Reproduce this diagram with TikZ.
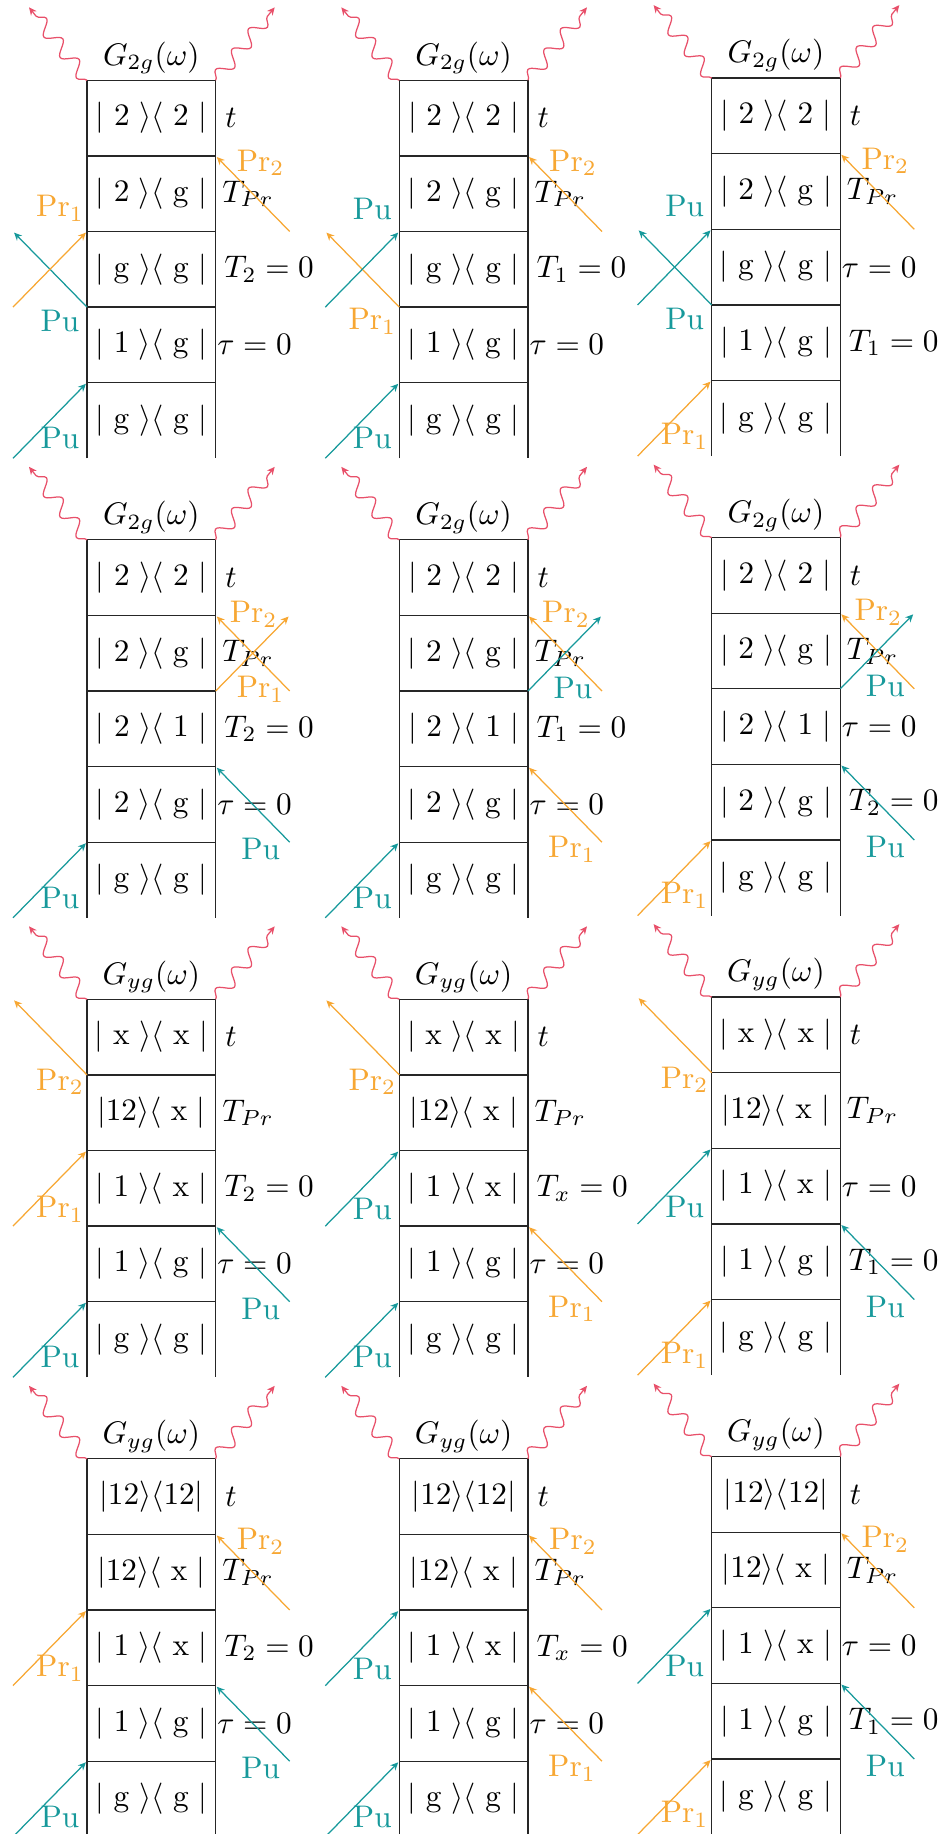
\documentclass[tikz,border=0pt]{standalone}
\usepackage{amsmath,amssymb}
\usetikzlibrary{arrows.meta,decorations.pathmorphing,calc}

\definecolor{pumpcol}{HTML}{17999B}
\definecolor{probecol}{HTML}{F7A733}
\definecolor{emitcol}{HTML}{E8506A}

\newcommand{\rowh}{75.6}
\newcommand{\boxw}{128.7}
\newcommand{\arrw}{74}

% density matrix element, single levels get some room
\newcommand{\dens}[2]{$|#1\rangle\langle#2|$}
\newcommand{\lvl}[1]{\mskip5.5mu\mathrm{#1}\mskip5.5mu}

\tikzset{
  ladderline/.style={draw=black!85, line width=0.4pt},
  cell/.style={inner sep=0pt},
  timelbl/.style={anchor=west, inner sep=0pt},
  resp/.style={inner sep=0pt},
  emit/.style={emitcol, decorate,
    decoration={snake, amplitude=2.2pt, segment length=8.4pt, post length=2.5pt},
    -{Stealth[length=2.5pt, width=2.3pt]}},
  pump/.style={pumpcol, -{Stealth[length=2.5pt, width=2.3pt]}, shorten >=0.5pt},
  probe/.style={probecol, -{Stealth[length=2.5pt, width=2.3pt]}, shorten >=0.5pt},
  pulbl/.style={pumpcol, inner sep=0pt},
  prlbl/.style={probecol, inner sep=0pt},
}

% one ladder: name, top left corner, index of G, cells, time labels
\newcommand{\ladder}[5]{%
  \begin{scope}[shift={#2}]
    % row corners and arrow ends
    \foreach \k in {0,...,5} {
      \coordinate (#1-L\k) at (0,{\k*\rowh});
      \coordinate (#1-R\k) at (\boxw,{\k*\rowh});
      \coordinate (#1-l\k) at ({-\arrw},{\k*\rowh});
      \coordinate (#1-r\k) at ({\boxw+\arrw},{\k*\rowh});
    }
    \draw[ladderline] (#1-L5) -- (#1-L0) -- (#1-R0) -- (#1-R5);
    \foreach \k in {1,...,4} \draw[ladderline] (#1-L\k) -- (#1-R\k);
    % cells
    \foreach \txt [count=\k] in {#4}
      \node[cell] (#1-c\k) at ({\boxw/2},{(\k-0.5)*\rowh}) {\txt};
    % times
    \foreach \dx/\txt [count=\k] in {#5}
      \node[timelbl] (#1-t\k) at ({\boxw+\dx},{(\k-0.5)*\rowh}) {\txt};
    % emitted field
    \node[resp] (#1-g) at ({\boxw/2},-22.5) {$G_{#3}(\omega)$};
    \coordinate (#1-wl) at (-58,-73);
    \coordinate (#1-wr) at ({\boxw+59},-73);
    \draw[emit] (#1-L0) -- (#1-wl);
    \draw[emit] (#1-R0) -- (#1-wr);
  \end{scope}}

\begin{document}
\begin{tikzpicture}[x=0.32pt, y=-0.32pt]
  \useasboundingbox (0,0) rectangle (944,1834);

  % ---------- first row ----------
  \ladder{p1}{(87,80.3)}{2g}%
    {\dens{\lvl{2}}{\lvl{2}}, \dens{\lvl{2}}{\lvl{g}}, \dens{\lvl{g}}{\lvl{g}}, \dens{\lvl{1}}{\lvl{g}}, \dens{\lvl{g}}{\lvl{g}}}%
    {9/$t$, 6/$T_{Pr}$, 8/$T_2=0$, 1/$\tau=0$}
  \draw[pump] (p1-l5) -- (p1-L4);
  \node[pulbl] (p1-a) at ($(p1-L5)+(-27,-20)$) {Pu};
  \draw[pump] (p1-L3) -- (p1-l2);
  \node[pulbl] (p1-b) at ($(p1-L3)+(-27,14)$) {Pu};
  \draw[probe] (p1-l3) -- (p1-L2);
  \node[prlbl] (p1-c) at ($(p1-L2)+(-27,-23)$) {Pr$_1$};
  \draw[probe] (p1-r2) -- (p1-R1);
  \node[prlbl] (p1-d) at ($(p1-R1)+(45,7)$) {Pr$_2$};

  \ladder{p2}{(399.3,80.3)}{2g}%
    {\dens{\lvl{2}}{\lvl{2}}, \dens{\lvl{2}}{\lvl{g}}, \dens{\lvl{g}}{\lvl{g}}, \dens{\lvl{1}}{\lvl{g}}, \dens{\lvl{g}}{\lvl{g}}}%
    {9/$t$, 6/$T_{Pr}$, 8/$T_1=0$, 1/$\tau=0$}
  \draw[pump] (p2-l5) -- (p2-L4);
  \node[pulbl] (p2-a) at ($(p2-L5)+(-27,-20)$) {Pu};
  \draw[probe] (p2-L3) -- (p2-l2);
  \node[prlbl] (p2-b) at ($(p2-L3)+(-27,14)$) {Pr$_1$};
  \draw[pump] (p2-l3) -- (p2-L2);
  \node[pulbl] (p2-c) at ($(p2-L2)+(-27,-23)$) {Pu};
  \draw[probe] (p2-r2) -- (p2-R1);
  \node[prlbl] (p2-d) at ($(p2-R1)+(45,7)$) {Pr$_2$};

  \ladder{p3}{(711.6,78.1)}{2g}%
    {\dens{\lvl{2}}{\lvl{2}}, \dens{\lvl{2}}{\lvl{g}}, \dens{\lvl{g}}{\lvl{g}}, \dens{\lvl{1}}{\lvl{g}}, \dens{\lvl{g}}{\lvl{g}}}%
    {9/$t$, 6/$T_{Pr}$, 1/$\tau=0$, 8/$T_1=0$}
  \draw[probe] (p3-l5) -- (p3-L4);
  \node[prlbl] (p3-a) at ($(p3-L5)+(-27,-20)$) {Pr$_1$};
  \draw[pump] (p3-L3) -- (p3-l2);
  \node[pulbl] (p3-b) at ($(p3-L3)+(-27,14)$) {Pu};
  \draw[pump] (p3-l3) -- (p3-L2);
  \node[pulbl] (p3-c) at ($(p3-L2)+(-27,-23)$) {Pu};
  \draw[probe] (p3-r2) -- (p3-R1);
  \node[prlbl] (p3-d) at ($(p3-R1)+(45,7)$) {Pr$_2$};

  % ---------- second row ----------
  \ladder{p4}{(87,539.8)}{2g}%
    {\dens{\lvl{2}}{\lvl{2}}, \dens{\lvl{2}}{\lvl{g}}, \dens{\lvl{2}}{\lvl{1}}, \dens{\lvl{2}}{\lvl{g}}, \dens{\lvl{g}}{\lvl{g}}}%
    {9/$t$, 6/$T_{Pr}$, 8/$T_2=0$, 1/$\tau=0$}
  \draw[pump] (p4-l5) -- (p4-L4);
  \node[pulbl] (p4-a) at ($(p4-L5)+(-27,-20)$) {Pu};
  \draw[pump] (p4-r4) -- (p4-R3);
  \node[pulbl] (p4-b) at ($(p4-R4)+(45,7)$) {Pu};
  \draw[probe] (p4-r2) -- (p4-R1);
  \node[prlbl] (p4-c) at ($(p4-R2)+(45,-2)$) {Pr$_1$};
  \draw[probe] (p4-R2) -- (p4-r1);
  \node[prlbl] (p4-d) at ($(p4-R1)+(38,-1)$) {Pr$_2$};

  \ladder{p5}{(399.3,539.8)}{2g}%
    {\dens{\lvl{2}}{\lvl{2}}, \dens{\lvl{2}}{\lvl{g}}, \dens{\lvl{2}}{\lvl{1}}, \dens{\lvl{2}}{\lvl{g}}, \dens{\lvl{g}}{\lvl{g}}}%
    {9/$t$, 6/$T_{Pr}$, 8/$T_1=0$, 1/$\tau=0$}
  \draw[pump] (p5-l5) -- (p5-L4);
  \node[pulbl] (p5-a) at ($(p5-L5)+(-27,-20)$) {Pu};
  \draw[probe] (p5-r4) -- (p5-R3);
  \node[prlbl] (p5-b) at ($(p5-R4)+(44,7)$) {Pr$_1$};
  \draw[probe] (p5-r2) -- (p5-R1);
  \node[prlbl] (p5-c) at ($(p5-R1)+(38,-1)$) {Pr$_2$};
  \draw[pump] (p5-R2) -- (p5-r1);
  \node[pulbl] (p5-d) at ($(p5-R2)+(45,-3)$) {Pu};

  \ladder{p6}{(711.6,537.6)}{2g}%
    {\dens{\lvl{2}}{\lvl{2}}, \dens{\lvl{2}}{\lvl{g}}, \dens{\lvl{2}}{\lvl{1}}, \dens{\lvl{2}}{\lvl{g}}, \dens{\lvl{g}}{\lvl{g}}}%
    {9/$t$, 6/$T_{Pr}$, 1/$\tau=0$, 8/$T_2=0$}
  \draw[probe] (p6-l5) -- (p6-L4);
  \node[prlbl] (p6-a) at ($(p6-L5)+(-27,-20)$) {Pr$_1$};
  \draw[pump] (p6-r4) -- (p6-R3);
  \node[pulbl] (p6-b) at ($(p6-R4)+(45,7)$) {Pu};
  \draw[probe] (p6-r2) -- (p6-R1);
  \node[prlbl] (p6-c) at ($(p6-R1)+(38,-1)$) {Pr$_2$};
  \draw[pump] (p6-R2) -- (p6-r1);
  \node[pulbl] (p6-d) at ($(p6-R2)+(45,-3)$) {Pu};

  % ---------- third row ----------
  \ladder{p7}{(87,999.3)}{yg}%
    {\dens{\lvl{x}}{\lvl{x}}, \dens{12}{\lvl{x}}, \dens{\lvl{1}}{\lvl{x}}, \dens{\lvl{1}}{\lvl{g}}, \dens{\lvl{g}}{\lvl{g}}}%
    {9/$t$, 6/$T_{Pr}$, 8/$T_2=0$, 1/$\tau=0$}
  \draw[pump] (p7-l5) -- (p7-L4);
  \node[pulbl] (p7-a) at ($(p7-L5)+(-27,-20)$) {Pu};
  \draw[pump] (p7-r4) -- (p7-R3);
  \node[pulbl] (p7-b) at ($(p7-R4)+(45,7)$) {Pu};
  \draw[probe] (p7-l3) -- (p7-L2);
  \node[prlbl] (p7-c) at ($(p7-L3)+(-27,-17)$) {Pr$_1$};
  \draw[probe] (p7-L1) -- (p7-l0);
  \node[prlbl] (p7-d) at ($(p7-L1)+(-27,7)$) {Pr$_2$};

  \ladder{p8}{(399.3,999.3)}{yg}%
    {\dens{\lvl{x}}{\lvl{x}}, \dens{12}{\lvl{x}}, \dens{\lvl{1}}{\lvl{x}}, \dens{\lvl{1}}{\lvl{g}}, \dens{\lvl{g}}{\lvl{g}}}%
    {9/$t$, 6/$T_{Pr}$, 8/$T_x=0$, 1/$\tau=0$}
  \draw[pump] (p8-l5) -- (p8-L4);
  \node[pulbl] (p8-a) at ($(p8-L5)+(-27,-20)$) {Pu};
  \draw[probe] (p8-r4) -- (p8-R3);
  \node[prlbl] (p8-b) at ($(p8-R4)+(44,7)$) {Pr$_1$};
  \draw[pump] (p8-l3) -- (p8-L2);
  \node[pulbl] (p8-c) at ($(p8-L3)+(-27,-17)$) {Pu};
  \draw[probe] (p8-L1) -- (p8-l0);
  \node[prlbl] (p8-d) at ($(p8-L1)+(-27,7)$) {Pr$_2$};

  \ladder{p9}{(711.6,997.1)}{yg}%
    {\dens{\lvl{x}}{\lvl{x}}, \dens{12}{\lvl{x}}, \dens{\lvl{1}}{\lvl{x}}, \dens{\lvl{1}}{\lvl{g}}, \dens{\lvl{g}}{\lvl{g}}}%
    {9/$t$, 6/$T_{Pr}$, 1/$\tau=0$, 8/$T_1=0$}
  \draw[probe] (p9-l5) -- (p9-L4);
  \node[prlbl] (p9-a) at ($(p9-L5)+(-27,-20)$) {Pr$_1$};
  \draw[pump] (p9-r4) -- (p9-R3);
  \node[pulbl] (p9-b) at ($(p9-R4)+(45,7)$) {Pu};
  \draw[pump] (p9-l3) -- (p9-L2);
  \node[pulbl] (p9-c) at ($(p9-L3)+(-27,-17)$) {Pu};
  \draw[probe] (p9-L1) -- (p9-l0);
  \node[prlbl] (p9-d) at ($(p9-L1)+(-27,7)$) {Pr$_2$};

  % ---------- fourth row ----------
  \ladder{p10}{(87,1458.8)}{yg}%
    {\dens{12}{12}, \dens{12}{\lvl{x}}, \dens{\lvl{1}}{\lvl{x}}, \dens{\lvl{1}}{\lvl{g}}, \dens{\lvl{g}}{\lvl{g}}}%
    {9/$t$, 6/$T_{Pr}$, 8/$T_2=0$, 1/$\tau=0$}
  \draw[pump] (p10-l5) -- (p10-L4);
  \node[pulbl] (p10-a) at ($(p10-L5)+(-27,-20)$) {Pu};
  \draw[pump] (p10-r4) -- (p10-R3);
  \node[pulbl] (p10-b) at ($(p10-R4)+(45,7)$) {Pu};
  \draw[probe] (p10-l3) -- (p10-L2);
  \node[prlbl] (p10-c) at ($(p10-L3)+(-27,-17)$) {Pr$_1$};
  \draw[probe] (p10-r2) -- (p10-R1);
  \node[prlbl] (p10-d) at ($(p10-R1)+(45,7)$) {Pr$_2$};

  \ladder{p11}{(399.3,1458.8)}{yg}%
    {\dens{12}{12}, \dens{12}{\lvl{x}}, \dens{\lvl{1}}{\lvl{x}}, \dens{\lvl{1}}{\lvl{g}}, \dens{\lvl{g}}{\lvl{g}}}%
    {9/$t$, 6/$T_{Pr}$, 8/$T_x=0$, 1/$\tau=0$}
  \draw[pump] (p11-l5) -- (p11-L4);
  \node[pulbl] (p11-a) at ($(p11-L5)+(-27,-20)$) {Pu};
  \draw[probe] (p11-r4) -- (p11-R3);
  \node[prlbl] (p11-b) at ($(p11-R4)+(44,7)$) {Pr$_1$};
  \draw[pump] (p11-l3) -- (p11-L2);
  \node[pulbl] (p11-c) at ($(p11-L3)+(-27,-17)$) {Pu};
  \draw[probe] (p11-r2) -- (p11-R1);
  \node[prlbl] (p11-d) at ($(p11-R1)+(45,7)$) {Pr$_2$};

  \ladder{p12}{(711.6,1456.6)}{yg}%
    {\dens{12}{12}, \dens{12}{\lvl{x}}, \dens{\lvl{1}}{\lvl{x}}, \dens{\lvl{1}}{\lvl{g}}, \dens{\lvl{g}}{\lvl{g}}}%
    {9/$t$, 6/$T_{Pr}$, 1/$\tau=0$, 8/$T_1=0$}
  \draw[probe] (p12-l5) -- (p12-L4);
  \node[prlbl] (p12-a) at ($(p12-L5)+(-27,-20)$) {Pr$_1$};
  \draw[pump] (p12-r4) -- (p12-R3);
  \node[pulbl] (p12-b) at ($(p12-R4)+(45,7)$) {Pu};
  \draw[pump] (p12-l3) -- (p12-L2);
  \node[pulbl] (p12-c) at ($(p12-L3)+(-27,-17)$) {Pu};
  \draw[probe] (p12-r2) -- (p12-R1);
  \node[prlbl] (p12-d) at ($(p12-R1)+(45,7)$) {Pr$_2$};
\end{tikzpicture}
\end{document}
